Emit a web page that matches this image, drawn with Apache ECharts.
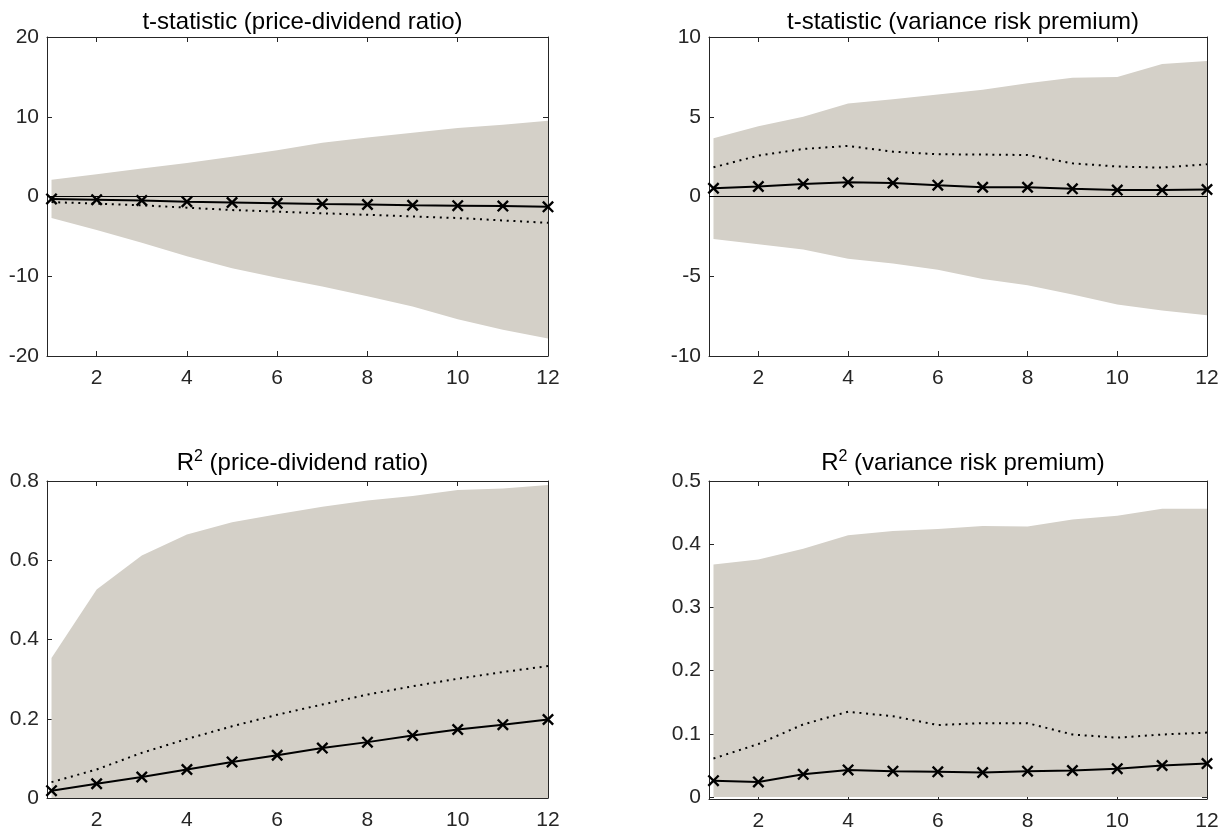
<!DOCTYPE html>
<html><head><meta charset="utf-8">
<script src="https://cdn.jsdelivr.net/npm/echarts@6/dist/echarts.min.js"></script>
<style>html,body{margin:0;padding:0;background:#fff}#c{width:1229px;height:834px}</style>
</head><body><div id="c"></div>
<script>
// ---------- data ----------
const horizons = [1,2,3,4,5,6,7,8,9,10,11,12];
const xTickValues = [2,4,6,8,10,12];

// t-statistic (price-dividend ratio)
const tPdUpper  = [2.1, 2.8, 3.5, 4.2, 5.0, 5.8, 6.75, 7.4, 8.0, 8.6, 9.0, 9.5];
const tPdLower  = [-2.7, -4.2, -5.8, -7.5, -9.0, -10.2, -11.3, -12.5, -13.8, -15.4, -16.7, -17.8];
const tPdDotted = [-0.7, -0.9, -1.1, -1.4, -1.7, -1.9, -2.1, -2.3, -2.5, -2.7, -3.0, -3.3];
const tPdSolid  = [-0.3, -0.4, -0.5, -0.65, -0.75, -0.85, -0.95, -1.0, -1.1, -1.15, -1.2, -1.3];
const tPdTicks  = [-20, -10, 0, 10, 20];

// t-statistic (variance risk premium)
const tVrpUpper  = [3.65, 4.4, 5.0, 5.83, 6.1, 6.4, 6.7, 7.1, 7.45, 7.5, 8.3, 8.5];
const tVrpLower  = [-2.67, -3.0, -3.33, -3.9, -4.2, -4.6, -5.17, -5.56, -6.15, -6.77, -7.15, -7.44];
const tVrpDotted = [1.83, 2.56, 2.98, 3.17, 2.81, 2.65, 2.63, 2.6, 2.08, 1.88, 1.81, 2.02];
const tVrpSolid  = [0.52, 0.63, 0.79, 0.9, 0.85, 0.71, 0.58, 0.58, 0.48, 0.4, 0.4, 0.44];
const tVrpTicks  = [-10, -5, 0, 5, 10];

// R^2 (price-dividend ratio)
const r2PdUpper  = [0.353, 0.526, 0.612, 0.665, 0.696, 0.716, 0.735, 0.751, 0.762, 0.777, 0.781, 0.79];
const r2PdLower  = [0, 0, 0, 0, 0, 0, 0, 0, 0, 0, 0, 0];
const r2PdDotted = [0.04, 0.072, 0.114, 0.149, 0.181, 0.21, 0.236, 0.261, 0.282, 0.301, 0.318, 0.333];
const r2PdSolid  = [0.0185, 0.036, 0.053, 0.072, 0.091, 0.108, 0.126, 0.141, 0.158, 0.173, 0.185, 0.198];
const r2PdTicks  = [0, 0.2, 0.4, 0.6, 0.8];

// R^2 (variance risk premium)
const r2VrpUpper  = [0.368, 0.376, 0.393, 0.414, 0.421, 0.424, 0.429, 0.428, 0.439, 0.445, 0.456, 0.456];
const r2VrpLower  = [0, 0, 0, 0, 0, 0, 0, 0, 0, 0, 0, 0];
const r2VrpDotted = [0.061, 0.084, 0.115, 0.135, 0.128, 0.114, 0.117, 0.117, 0.099, 0.094, 0.099, 0.102];
const r2VrpSolid  = [0.026, 0.024, 0.036, 0.043, 0.041, 0.040, 0.039, 0.041, 0.042, 0.045, 0.050, 0.053];
const r2VrpTicks  = [0, 0.1, 0.2, 0.3, 0.4, 0.5];

// ---------- styling ----------
const FONT = "'Liberation Sans', Arial, Helvetica, sans-serif";
const AXIS = '#262626';
const BAND = '#d4d0c8';
const TICK_FS = 21;
const TITLE_FS = 24;
const XMARK = 'path://M0,1.4L1.4,0L10,8.6L8.6,10ZM8.6,0L10,1.4L1.4,10L0,8.6Z';

const panels = [
  {grid:{left:47, top:37, width:501, height:319}, ymin:-20, ymax:20, yt:tPdTicks,
   up:tPdUpper, lo:tPdLower, dot:tPdDotted, sol:tPdSolid, zero:true},
  {grid:{left:709, top:37, width:498, height:319}, ymin:-10, ymax:10, yt:tVrpTicks,
   up:tVrpUpper, lo:tVrpLower, dot:tVrpDotted, sol:tVrpSolid, zero:true},
  {grid:{left:47, top:481, width:501, height:317}, ymin:0, ymax:0.8, yt:r2PdTicks,
   up:r2PdUpper, lo:r2PdLower, dot:r2PdDotted, sol:r2PdSolid, zero:false},
  {grid:{left:709, top:481, width:498, height:318}, ymin:-0.003, ymax:0.5, yt:r2VrpTicks,
   up:r2VrpUpper, lo:r2VrpLower, dot:r2VrpDotted, sol:r2VrpSolid, zero:false}
];

const pairs = arr => horizons.map((h, i) => [h, arr[i]]);

const grids = [], xAxes = [], yAxes = [], series = [];
panels.forEach((p, gi) => {
  grids.push(Object.assign({containLabel:false}, p.grid));
  const lineStyle = {color: AXIS, width: 1};
  ['bottom','top'].forEach(pos => xAxes.push({
    type:'value', gridIndex:gi, position:pos, min:0.9, max:12,
    axisLine:{show:true, onZero:false, lineStyle},
    axisTick:{show:true, inside:true, length:5, customValues:xTickValues, lineStyle},
    axisLabel:{show:pos==='bottom', customValues:xTickValues, margin:12, color:AXIS,
               fontSize:TICK_FS, fontFamily:FONT},
    splitLine:{show:false}
  }));
  ['left','right'].forEach(pos => yAxes.push({
    type:'value', gridIndex:gi, position:pos, min:p.ymin, max:p.ymax,
    axisLine:{show:true, onZero:false, lineStyle},
    axisTick:{show:true, inside:true, length:5, customValues:p.yt, lineStyle},
    axisLabel:{show:pos==='left', customValues:p.yt, margin:8, color:AXIS,
               fontSize:TICK_FS, fontFamily:FONT},
    splitLine:{show:false}
  }));
  const xi = 2*gi, yi = 2*gi;
  // shaded band: one polygon, upper edge then lower edge reversed, mapped through the axes
  series.push({
    type:'custom', xAxisIndex:xi, yAxisIndex:yi, silent:true, z:1,
    data: horizons.map((h,i)=>[h, p.lo[i], p.up[i]]),
    encode:{x:0, y:[1,2]},
    renderItem:(params, api) => {
      if (params.dataIndex !== 0) return null;
      const pts = [];
      horizons.forEach((h,i)=>pts.push(api.coord([h, p.up[i]])));
      for (let i = horizons.length-1; i >= 0; i--) pts.push(api.coord([horizons[i], p.lo[i]]));
      return {type:'polygon', shape:{points:pts}, style:{fill:BAND, stroke:null}};
    }
  });
  const dotted = {
    type:'line', xAxisIndex:xi, yAxisIndex:yi, data:pairs(p.dot), symbol:'none',
    lineStyle:{color:'#000', width:2, type:[2,4.7], cap:'butt'}, silent:true, z:3
  };
  if (p.zero) {
    dotted.markLine = {silent:true, symbol:'none', label:{show:false},
      lineStyle:{color:'#000', width:1, type:'solid'}, data:[{yAxis:0}]};
  }
  series.push(dotted);
  series.push({
    type:'line', xAxisIndex:xi, yAxisIndex:yi, data:pairs(p.sol), clip:false,
    symbol:XMARK, symbolSize:12, showAllSymbol:true,
    itemStyle:{color:'#000'}, lineStyle:{color:'#000', width:2}, silent:true, z:4
  });
});

const titleStyle = {color:'#000', fontSize:TITLE_FS, fontWeight:'normal', fontFamily:FONT};
const rich = {
  r:{fontSize:TITLE_FS, fontFamily:FONT, color:'#000', lineHeight:28},
  s:{fontSize:16, fontFamily:FONT, color:'#000', verticalAlign:'top', lineHeight:28, padding:[0,0,10,0]}
};
const titles = [
  {text:'t-statistic (price-dividend ratio)', left:297.5, top:5, textAlign:'center', textStyle:titleStyle},
  {text:'t-statistic (variance risk premium)', left:958, top:5, textAlign:'center', textStyle:titleStyle},
  {text:'{r|R}{s|2}{r| (price-dividend ratio)}', left:297.5, top:444, textAlign:'center', textStyle:Object.assign({rich}, titleStyle)},
  {text:'{r|R}{s|2}{r| (variance risk premium)}', left:958, top:444, textAlign:'center', textStyle:Object.assign({rich}, titleStyle)}
];

const chart = echarts.init(document.getElementById('c'), null, {renderer:'canvas'});
chart.setOption({
  animation:false, backgroundColor:'#fff',
  title:titles, grid:grids, xAxis:xAxes, yAxis:yAxes, series
});
</script></body></html>
